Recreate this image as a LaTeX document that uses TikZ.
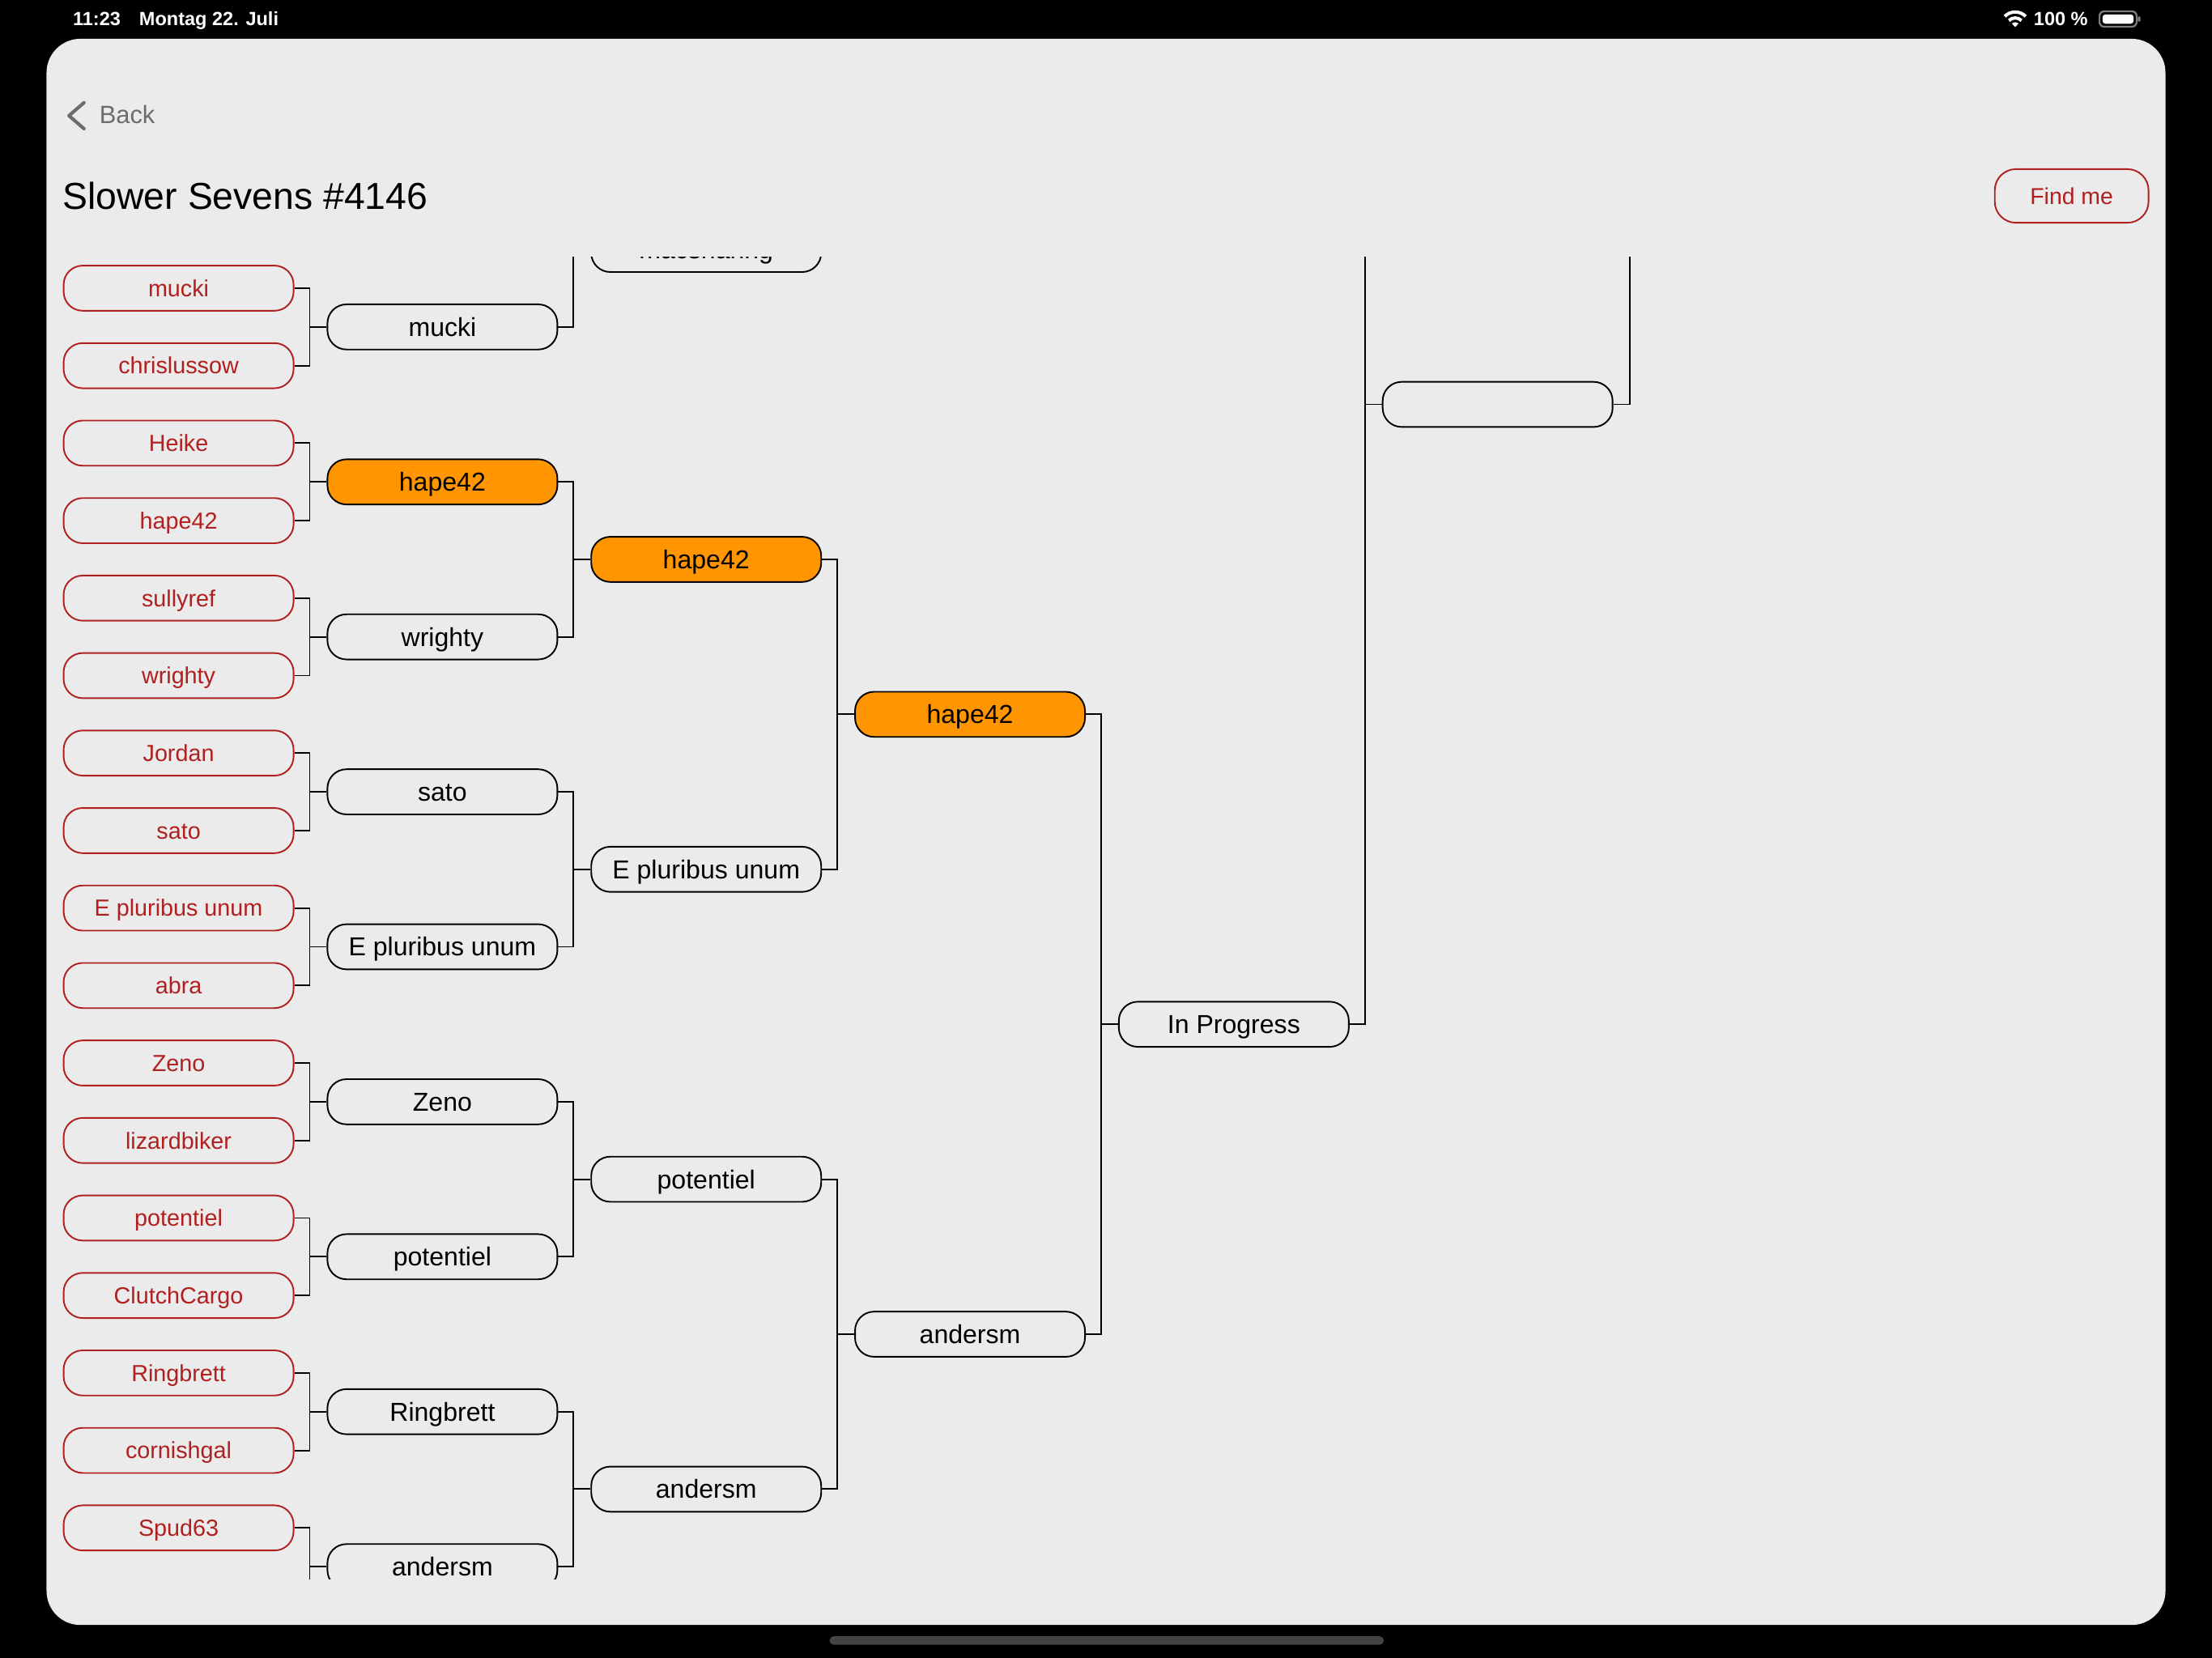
\documentclass[tikz,border=0pt]{standalone}
\usepackage{fontspec}
\setmainfont{Liberation Sans}
\usetikzlibrary{calc}
\definecolor{panelbg}{RGB}{235,235,235}
\definecolor{tred}{RGB}{176,32,32}
\definecolor{torange}{RGB}{255,149,0}
\definecolor{backgray}{RGB}{108,108,112}
\definecolor{icongray}{RGB}{125,125,125}
\definecolor{homebar}{RGB}{68,68,68}
\newcommand{\pairlink}[3]{%
  \draw[link] (#1) -| ($(#3)+(-12,0)$) |- (#2);
  \draw[link] ($(#3)+(-12,0)$) -- (#3);}
\begin{document}
\begin{tikzpicture}[x=1pt,y=-1pt,
  redbox/.style={draw=tred, line width=1.1pt, rounded corners=13.5pt, minimum width=163pt, minimum height=32pt, inner sep=0pt, text=tred, font=\fontsize{16.5pt}{16.5pt}\selectfont, text height=11.8pt, text depth=0pt},
  blkbox/.style={draw=black, line width=1.1pt, rounded corners=13.5pt, minimum width=163pt, minimum height=32pt, inner sep=0pt, text=black, font=\fontsize{18.4pt}{18.4pt}\selectfont, text height=13.2pt, text depth=0pt},
  winbox/.style={blkbox, fill=torange},
  link/.style={draw=black, line width=1.1pt},
  stat/.style={text=white, font=\bfseries\fontsize{13.5pt}{13.5pt}\selectfont, inner sep=0pt, anchor=base west},
]
\useasboundingbox (0,0) rectangle (1568,1175.4);
\fill[black] (0,0) rectangle (1568,1175.4);
\fill[panelbg, rounded corners=24pt] (33,27.5) rectangle (1535,1152);

% status bar
\node[stat] (clock) at (51.5,18.3) {11:23};
\node[stat] (date) at (98.5,18.3) {Montag 22. Juli};
\node[stat] (level) at (1441.5,18.3) {100 \%};
\draw[white, line width=2.3pt] (1421.08,11.58) .. controls (1425.18,7.48) and (1431.82,7.48) .. (1435.92,11.58);
\draw[white, line width=2.3pt] (1424.05,14.55) .. controls (1426.51,12.09) and (1430.49,12.09) .. (1432.95,14.55);
\fill[white] (1428.5,19.2) -- (1426.1,16.6) .. controls (1427.4,15.4) and (1429.6,15.4) .. (1430.9,16.6) -- cycle;
\draw[icongray, line width=1.3pt, rounded corners=3.5pt] (1488.2,8) rectangle (1514.6,19);
\fill[white, rounded corners=2pt] (1490.4,10.2) rectangle (1512.4,16.8);
\fill[icongray, rounded corners=0.8pt] (1515.4,11.6) rectangle (1517.3,15.4);

% home indicator
\fill[homebar, rounded corners=3pt] (588,1160) rectangle (981,1166);

% navigation
\draw[backgray, line width=2.4pt, line cap=round, line join=round] (59.5,72.8) -- (48.9,82) -- (59.5,91.2);
\node[anchor=base west, inner sep=0pt, text=backgray, font=\fontsize{17.7pt}{17.7pt}\selectfont] (back) at (70.3,87.6) {Back};
\node[anchor=base west, inner sep=0pt, font=\fontsize{26.6pt}{26.6pt}\selectfont] (title) at (44.3,148.3) {Slower Sevens \#4146};
\node[draw=tred, line width=1.1pt, rounded corners=15pt, minimum width=109pt, minimum height=38pt, inner sep=0pt, text=tred, font=\fontsize{16.3pt}{16.3pt}\selectfont, text height=11.7pt, text depth=0pt] (findme) at (1468.5,138.9) {Find me};

% bracket
\begin{scope}
\clip (33,182.5) rectangle (1535,1119.5);
\foreach \t [count=\i from 0] in {mucki,chrislussow,Heike,hape42,sullyref,wrighty,Jordan,sato,E pluribus unum,abra,Zeno,lizardbiker,potentiel,ClutchCargo,Ringbrett,cornishgal,Spud63}
  \node[redbox] (r\i) at (126.6,{204.3+54.93*\i}) {\t};
\coordinate (r17) at (208.1,1138.11);
\foreach \t/\st [count=\i from 0] in {mucki/blkbox,hape42/winbox,wrighty/blkbox,sato/blkbox,E pluribus unum/blkbox,Zeno/blkbox,potentiel/blkbox,Ringbrett/blkbox,andersm/blkbox}
  \node[\st] (s\i) at (313.6,{231.77+109.86*\i}) {\t};
\coordinate (sTop) at (395.1,121.91);
\foreach \t/\st [count=\i from 0] in {macsharing/blkbox,hape42/winbox,E pluribus unum/blkbox,potentiel/blkbox,andersm/blkbox}
  \node[\st] (t\i) at (500.6,{176.84+219.72*\i}) {\t};
\node[winbox] (u1) at (687.6,506.42) {hape42};
\node[blkbox] (u2) at (687.6,945.86) {andersm};
\node[blkbox] (v1) at (874.6,726.14) {In Progress};
\coordinate (v0) at (956.1,-152.74);
\node[blkbox] (w1) at (1061.6,286.7) {};
\coordinate (w0) at (1143.1,-1471.06);
\coordinate (x0) at (1167.1,-592.18);

\foreach \k in {0,...,7} {
  \pgfmathtruncatemacro\ka{2*\k}
  \pgfmathtruncatemacro\kb{2*\k+1}
  \pairlink{r\ka.east}{r\kb.east}{s\k.west}
}
\pairlink{r16.east}{r17}{s8.west}
\pairlink{sTop}{s0.east}{t0.west}
\pairlink{s1.east}{s2.east}{t1.west}
\pairlink{s3.east}{s4.east}{t2.west}
\pairlink{s5.east}{s6.east}{t3.west}
\pairlink{s7.east}{s8.east}{t4.west}
\pairlink{t1.east}{t2.east}{u1.west}
\pairlink{t3.east}{t4.east}{u2.west}
\pairlink{u1.east}{u2.east}{v1.west}
\pairlink{v0}{v1.east}{w1.west}
\pairlink{w0}{w1.east}{x0}
\end{scope}
\end{tikzpicture}
\end{document}
